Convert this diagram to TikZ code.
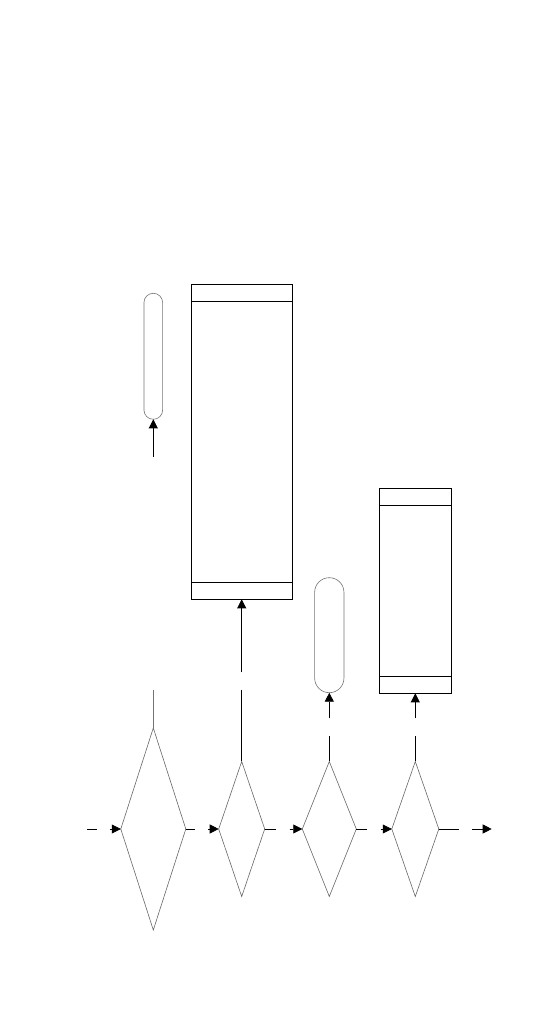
\documentclass[tikz,border=0pt]{standalone}
\usepackage{tikz}
\usetikzlibrary {arrows.meta, shapes.geometric, positioning}

\begin{document}
\begin{tikzpicture}[
        x=1pt, y=1pt, on grid, >={Triangle[length=9pt,width=9pt]},
        decision/.style={diamond, draw=black!60, line width=0.6pt, inner sep=0pt, outer sep=0pt},
        pill/.style={rectangle, draw=black!55, line width=0.6pt, inner sep=0pt, outer sep=0pt},
        block/.style={rectangle, draw, line width=1pt, inner sep=0pt, outer sep=0pt},
        flow/.style={line width=0.7pt},
        ]
        \useasboundingbox (0,0) rectangle (540,1026);
        % decisions
        \node[decision, minimum width=65pt, minimum height=202pt] (d_1) at (153.3,197) {};
        \node[decision, minimum width=46pt, minimum height=135pt] (d_2) [right=88.4pt of d_1] {};
        \node[decision, minimum width=54pt, minimum height=135pt] (d_3) [right=87.6pt of d_2] {};
        \node[decision, minimum width=47pt, minimum height=135pt] (d_4) [right=86pt of d_3] {};
        % terminals and blocks
        \node[pill, minimum width=18.7pt, minimum height=126pt, rounded corners=9.3pt] (p_1) [above=472.7pt of d_1] {};
        \node[block, minimum width=101pt, minimum height=315pt] (r_1) [above=387.2pt of d_2] {};
        \node[pill, minimum width=29.3pt, minimum height=115pt, rounded corners=14.6pt] (p_2) [above=193.8pt of d_3] {};
        \node[block, minimum width=72.4pt, minimum height=205pt] (r_2) [above=238.2pt of d_4] {};
        \foreach \r in {r_1, r_2} {
          \draw[line width=1pt] ([yshift=-17pt]\r.north west) -- ([yshift=-17pt]\r.north east);
          \draw[line width=1pt] ([yshift=17pt]\r.south west) -- ([yshift=17pt]\r.south east);
        }
        % free ends
        \coordinate (in_a) at (87.3,197);
        \coordinate (in_b) at (97.3,197);
        \coordinate (in_c) at (110,197);
        \coordinate (g_1a) at (195,197);
        \coordinate (g_1b) at (208.3,197);
        \coordinate (g_2a) at (275.7,197);
        \coordinate (g_2b) at (289.7,197);
        \coordinate (g_3a) at (366.7,197);
        \coordinate (g_3b) at (380.7,197);
        \coordinate (g_4a) at (459,197);
        \coordinate (g_4b) at (472,197);
        \coordinate (out) at (491.7,197);
        \coordinate (u_1a) at (153.3,336);
        \coordinate (u_1b) at (153.3,569.3);
        \coordinate (u_2a) at (241.7,336);
        \coordinate (u_2b) at (241.7,353.7);
        \coordinate (u_3a) at (329.3,290);
        \coordinate (u_3b) at (329.3,307.7);
        \coordinate (u_4a) at (415.3,290);
        \coordinate (u_4b) at (415.3,307.7);
        % connectors
        \draw[flow] (in_a) -- (in_b);
        \draw[flow, ->] (in_c) -- (d_1.west);
        \draw[flow] (d_1.east) -- (g_1a);
        \draw[flow, ->] (g_1b) -- (d_2.west);
        \draw[flow] (d_2.east) -- (g_2a);
        \draw[flow, ->] (g_2b) -- (d_3.west);
        \draw[flow] (d_3.east) -- (g_3a);
        \draw[flow, ->] (g_3b) -- (d_4.west);
        \draw[flow] (d_4.east) -- (g_4a);
        \draw[flow, ->] (g_4b) -- (out);
        \draw[line width=0.6pt, black!55] (d_1.north) -- (u_1a);
        \draw[flow, ->] (u_1b) -- (p_1.south);
        \draw[flow] (d_2.north) -- (u_2a);
        \draw[flow, ->] (u_2b) -- (r_1.south);
        \draw[flow] (d_3.north) -- (u_3a);
        \draw[flow, ->] (u_3b) -- (p_2.south);
        \draw[flow] (d_4.north) -- (u_4a);
        \draw[flow, ->] (u_4b) -- (r_2.south);
\end{tikzpicture}
\end{document}
